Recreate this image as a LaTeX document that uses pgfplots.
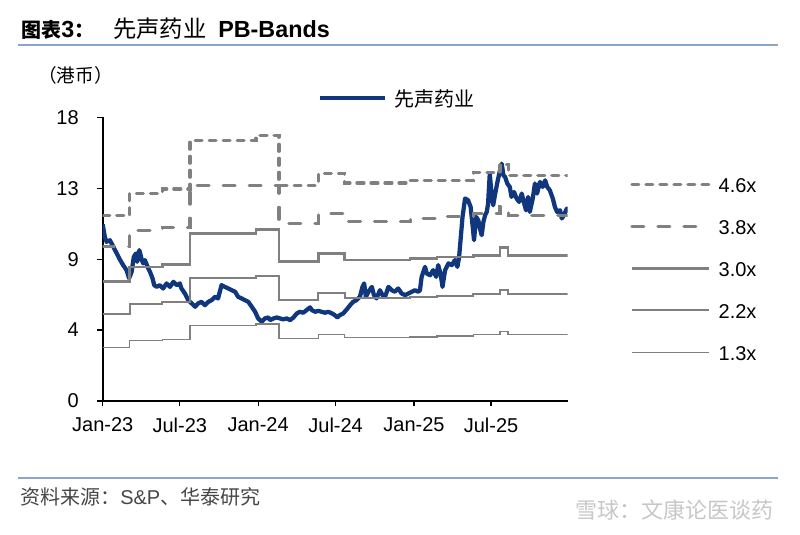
\documentclass[border=0pt]{standalone}
\usepackage{fontspec}
\usepackage{pgfplots}
\pgfplotsset{compat=1.18}
\setmainfont{Liberation Sans}
\newfontfamily\cjk{Noto Sans CJK SC}
\definecolor{navy}{RGB}{16,55,125}
\definecolor{band}{RGB}{128,128,128}
\definecolor{rulecol}{RGB}{140,165,205}
\definecolor{srcgray}{RGB}{70,70,70}

\begin{document}
\begin{tikzpicture}
\path[use as bounding box] (0pt,0pt) rectangle (600pt,401.25pt);

\begin{axis}[
  at={(77.03pt,100.5pt)}, anchor=south west, scale only axis,
  width=348.75pt, height=212.78pt,
  xmin=0, xmax=1092, ymin=0, ymax=18,
  axis x line*=bottom, axis y line*=left,
  axis line style={line width=1.2pt, black, -},
  xtick={0,181,365,547,731,912},
  xticklabels={Jan-23,Jul-23,Jan-24,Jul-24,Jan-25,Jul-25},
  ytick={0,4.5,9,13.5,18}, yticklabels={0,4,9,13,18},
  tick align=outside, major tick length=4pt,
  tick style={black, line width=0.9pt},
  ticklabel style={font=\fontsize{15}{18}\selectfont},
  xticklabel style={yshift=-5pt},
  yticklabel style={xshift=-10.5pt},
  /pgf/number format/assume math mode=true,
  legend style={at={(1.134,0.789)}, anchor=north west, draw=none, fill=none,
    inner sep=0pt, row sep=17.5pt, column sep=6pt,
    font=\fontsize{15}{18}\selectfont,
    nodes={inner sep=0pt, text height=11pt, text depth=3pt}},
  legend cell align=left,
  legend image code/.code={\path (0pt,0pt) (58pt,6pt); \draw[#1] (0pt,2pt) -- (58pt,2pt);},
]
% price
\addplot[navy, line width=3.2pt, line join=round, forget plot] coordinates {
(0,11.2)(5,10.41)(9,10.1)(17,10.2)(25,9.78)(33,9.36)(41,8.94)(48,8.62)(56,8.3)(62,7.78)(68,8.2)(73,9.14)(78,9.36)(81,8.83)(86,9.57)(92,8.94)(95,8.73)(99,8.94)(107,8.41)(111,8.2)(117,7.78)(121,7.35)(127,7.24)(134,7.35)(142,7.14)(150,7.46)(158,7.24)(166,7.56)(174,7.35)(181,7.46)(185,7.14)(193,6.82)(201,6.4)(209,6.19)(217,5.98)(224,6.19)(232,6.29)(240,6.08)(248,6.29)(256,6.4)(264,6.61)(271,6.51)(279,7.35)(287,7.24)(295,7.14)(303,7.03)(311,6.93)(318,6.61)(326,6.51)(334,6.4)(342,6.29)(350,5.98)(358,5.66)(365,5.24)(373,5.03)(381,5.24)(389,5.3)
(393,5.13)(401,5.24)(409,5.3)(416,5.24)(424,5.18)(432,5.24)(440,5.13)(448,5.3)(456,5.56)(463,5.66)(471,5.6)(479,5.77)(487,5.94)(491,5.77)(499,5.66)(506,5.72)(514,5.66)(522,5.6)(530,5.66)(538,5.56)(545,5.45)(551,5.3)(557,5.45)(565,5.56)(573,5.81)(581,6.08)(588,6.29)(596,6.4)(604,6.61)(610,7.24)(614,7.46)(618,6.61)(624,6.93)(632,7.24)(637,6.72)(643,6.51)(651,7.03)(657,6.72)(663,6.61)(671,7.24)(679,7.03)(686,6.93)(694,7.14)(702,6.82)(710,6.72)(718,6.82)(726,6.93)(733,7.03)(741,6.93)
(745,7.03)(749,7.88)(757,8.51)(761,8.09)(769,7.98)(776,8.3)(783,7.88)(788,8.62)(794,7.98)(798,7.24)(804,8.3)(812,8.73)(820,8.62)(827,8.94)(833,8.51)(837,9.14)(841,10.41)(845,11.68)(851,12.85)(858,12.74)(864,12.31)(869,11.05)(872,10.2)(877,11.68)(882,11.47)(886,10.94)(890,10.52)(894,11.36)(898,11.79)(902,12.0)(905,12.53)(909,14.43)(913,13.16)(917,12.42)(921,13.05)(927,13.9)(933,14.64)(937,15.06)(941,14.32)(945,14.21)(950,13.8)(956,13.58)(960,12.95)(966,13.26)(972,12.85)(978,12.63)(984,13.16)(989,12.63)(994,12.1)(999,12.95)(1003,12.0)(1010,12.85)(1015,13.8)(1020,13.16)(1027,13.9)(1033,13.58)(1039,14.0)(1044,13.58)(1050,13.37)(1057,12.85)(1062,12.31)(1067,12.0)(1074,12.1)(1078,11.58)(1083,11.79)(1090,12.21)(1092,12.1)
};
% 4.6x
\addplot[band, line width=2.3pt, line cap=round, dash pattern=on 5.3pt off 5.2pt, const plot] coordinates {
(0,11.74)(63,13.16)(140,13.45)(205,16.54)(360,16.86)(414,13.69)(506,14.43)(568,13.83)(722,14.0)(870,14.47)(933,15.0)(952,14.32)(1092,14.32)
};
\addlegendentry{4.6x}
% 3.8x
\addplot[band, line width=2.3pt, line cap=round, dash pattern=on 9pt off 10.5pt, const plot] coordinates {
(0,9.78)(63,10.84)(140,11.0)(205,13.69)(414,11.26)(506,11.89)(568,11.36)(722,11.58)(785,11.68)(870,11.89)(933,12.36)(952,11.79)(1092,11.79)
};
\addlegendentry{3.8x}
% 3.0x
\addplot[band, line width=2pt, const plot] coordinates {
(0,7.6)(63,8.51)(140,8.65)(205,10.63)(360,10.88)(414,8.83)(506,9.36)(568,8.94)(722,9.05)(785,9.14)(870,9.25)(933,9.72)(952,9.25)(1092,9.25)
};
\addlegendentry{3.0x}
% 2.2x
\addplot[band, line width=1.5pt, const plot] coordinates {
(0,5.5)(63,6.15)(140,6.3)(205,7.8)(360,7.95)(414,6.38)(506,6.85)(568,6.51)(722,6.6)(785,6.68)(870,6.82)(933,7.03)(952,6.76)(1092,6.76)
};
\addlegendentry{2.2x}
% 1.3x
\addplot[band, line width=1pt, const plot] coordinates {
(0,3.4)(63,3.82)(140,3.9)(205,4.78)(360,4.88)(414,3.95)(506,4.2)(568,4.01)(722,4.05)(785,4.12)(870,4.22)(933,4.39)(952,4.22)(1092,4.22)
};
\addlegendentry{1.3x}
\end{axis}

% legend for the price series
\begin{axis}[
  at={(77.03pt,100.5pt)}, anchor=south west, scale only axis,
  width=348.75pt, height=212.78pt,
  xmin=0, xmax=1092, ymin=0, ymax=18, hide axis,
  legend style={at={(0.463,1.094)}, anchor=north west, draw=none, fill=none,
    inner sep=0pt, column sep=5.25pt,
    font=\fontsize{15}{18}\selectfont\cjk,
    nodes={inner sep=0pt, text height=11pt, text depth=3pt}},
  legend image code/.code={\path (0pt,0pt) (48.75pt,6pt); \draw[#1] (0pt,2pt) -- (48.75pt,2pt);},
]
\addlegendimage{navy, line width=3.2pt}
\addlegendentry{先声药业}
\end{axis}

\begin{scope}[x=0.75pt,y=0.75pt]
% title
\node[anchor=base west, inner sep=0pt] at (21,497.5) {\fontsize{15}{18}\selectfont{\cjk\bfseries 图表}\fontsize{17.5}{20}\selectfont\bfseries 3{\cjk\fontsize{15}{18}\selectfont ：}};
\node[anchor=base west, inner sep=0pt] at (113,497.5) {\fontsize{17.5}{20}\selectfont\cjk 先声药业};
\node[anchor=base west, inner sep=0pt] at (218,497.5) {\fontsize{17.5}{20}\selectfont\bfseries PB-Bands};
\draw[rulecol, line width=1.4pt] (18,490) -- (778,490);
% unit
\node[anchor=west, inner sep=0pt] at (38,460) {\fontsize{14}{16}\selectfont\cjk （港币）};
% source
\draw[rulecol, line width=0.9pt] (18,57) -- (778,57);
\node[anchor=west, inner sep=0pt, text=srcgray] at (20,38) {\fontsize{15}{18}\selectfont{\cjk 资料来源：}S\&P{\cjk 、华泰研究}};
% watermark
\node[anchor=west, inner sep=0pt, text=black!22] at (575,25) {\fontsize{16.5}{18}\selectfont\cjk 雪球：文康论医谈药};
\end{scope}
\end{tikzpicture}
\end{document}
